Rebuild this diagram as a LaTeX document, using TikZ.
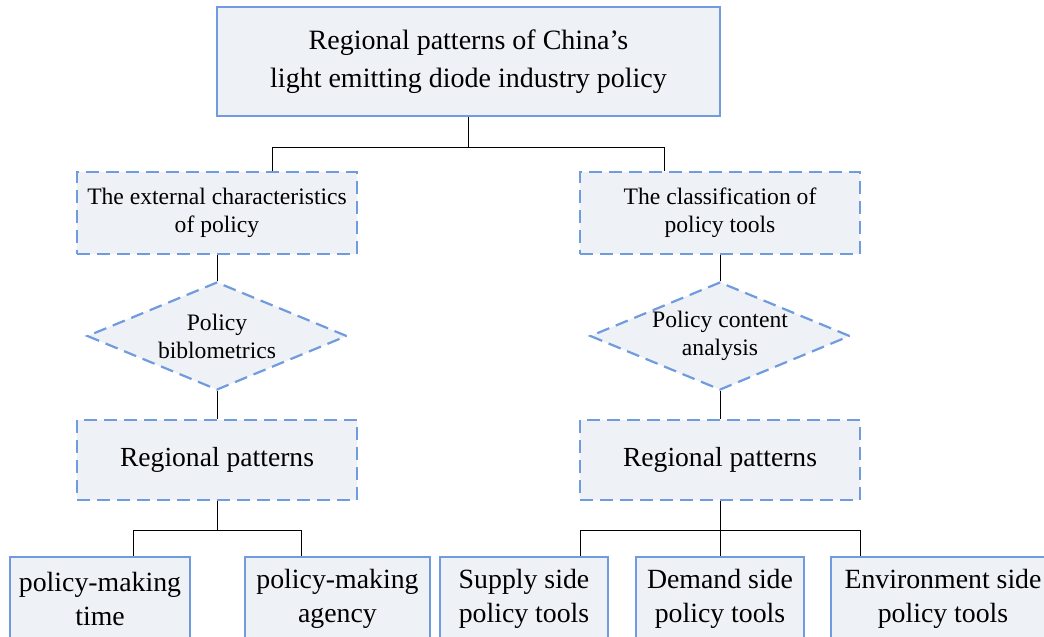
\documentclass[tikz,border=0pt]{standalone}
\usepackage{fontspec}
\setmainfont{Liberation Serif}
\usetikzlibrary{shapes.geometric}

\definecolor{boxfill}{RGB}{238,241,246}
\definecolor{boxline}{RGB}{112,155,222}

\tikzset{
 plainbox/.style={draw=boxline, fill=boxfill, line width=2.2pt, align=center, inner sep=0pt},
 dashbox/.style={plainbox, dash pattern=on 13pt off 7pt},
 choice/.style={diamond, draw=boxline, fill=boxfill, line width=2.2pt, dash pattern=on 13pt off 7pt, align=center, inner sep=0pt, aspect=2.4},
 link/.style={draw=black, line width=0.9pt}
}

\begin{document}
\begin{tikzpicture}[x=1pt, y=-1pt]
 \useasboundingbox (0,0) rectangle (1044,637);
 \node[plainbox, minimum width=503pt, minimum height=109pt, font=\fontsize{28}{38}\selectfont] (top) at (468.5,61.5) {Regional patterns of China's\\light emitting diode industry policy};
 \node[dashbox, minimum width=280pt, minimum height=82pt, font=\fontsize{23.6}{28}\selectfont] (ext) at (217,213) {The external characteristics\\of policy};
 \node[dashbox, minimum width=280pt, minimum height=82pt, font=\fontsize{23.6}{28}\selectfont] (cls) at (720,213) {The classification of\\policy tools};
 \node[choice, minimum width=260pt, minimum height=108pt, font=\fontsize{23.6}{28}\selectfont] (bib) at (217,336) {Policy\\biblometrics};
 \node[choice, minimum width=260pt, minimum height=108pt, font=\fontsize{23.6}{28}\selectfont] (con) at (720,336) {Policy content\\analysis};
 \node[dashbox, minimum width=280pt, minimum height=80pt, font=\fontsize{27.6}{30}\selectfont] (reg1) at (217,460) {Regional patterns};
 \node[dashbox, minimum width=280pt, minimum height=80pt, font=\fontsize{27.6}{30}\selectfont] (reg2) at (720,460) {Regional patterns};
 \node[plainbox, minimum width=180pt, minimum height=83pt, font=\fontsize{27.8}{34}\selectfont] (time) at (100,598.5) {policy-making\\time};
 \node[plainbox, minimum width=185pt, minimum height=83pt, font=\fontsize{27.8}{34}\selectfont] (agency) at (337.5,598.5) {policy-making\\agency};
 \node[plainbox, minimum width=168pt, minimum height=83pt, font=\fontsize{27.8}{34}\selectfont] (supply) at (524,598.5) {Supply side\\policy tools};
 \node[plainbox, minimum width=168pt, minimum height=83pt, font=\fontsize{27.8}{34}\selectfont] (demand) at (720,598.5) {Demand side\\policy tools};
 \node[plainbox, minimum width=224pt, minimum height=83pt, font=\fontsize{27.8}{34}\selectfont] (env) at (943,598.5) {Environment side\\policy tools};

 \draw[link] (top.south) -- ++(0,30) coordinate (j1);
 \draw[link] (j1) -| ([xshift=55pt]ext.north);
 \draw[link] (j1) -| ([xshift=-56pt]cls.north);
 \draw[link] (ext) -- (bib);
 \draw[link] (cls) -- (con);
 \draw[link] (bib) -- (reg1);
 \draw[link] (con) -- (reg2);
 \draw[link] (reg1.south) -- ++(0,29) coordinate (j2);
 \draw[link] (j2) -| ([xshift=33pt]time.north);
 \draw[link] (j2) -| ([xshift=-36.5pt]agency.north);
 \draw[link] (reg2.south) -- ++(0,29) coordinate (j3);
 \draw[link] (j3) -| ([xshift=56pt]supply.north);
 \draw[link] (j3) -- (demand.north);
 \draw[link] (j3) -| ([xshift=-83pt]env.north);
\end{tikzpicture}
\end{document}
